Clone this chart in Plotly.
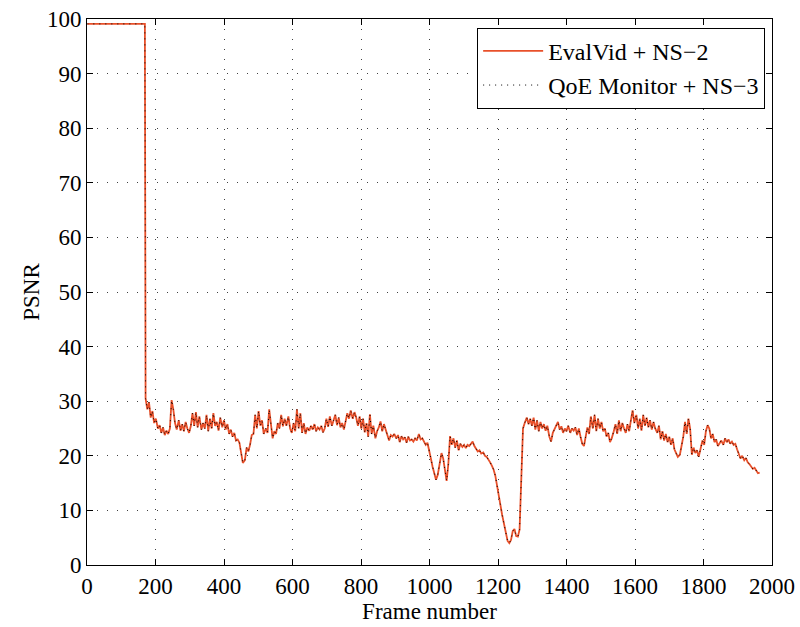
import plotly.graph_objects as go

# Initial constant segment (frames 1..169 at ~99 dB)
start_frames = [1, 169]
start_psnr = [99.1, 99.1]

# PSNR values read at a regular frame spacing starting at frame 171
step = 5.08
first_frame = 171
psnr_rows = [
    [30.5, 28.5, 29.8, 27.0, 28.2, 26.0, 26.8, 25.0, 25.6, 24.2, 25.2, 23.8, 24.6, 24.0, 25.0, 30.2, 28.5, 26.0, 24.8, 26.5],
    [24.6, 25.8, 24.5, 26.2, 25.0, 24.2, 25.4, 27.8, 25.5, 28.0, 25.2, 27.2, 24.8, 26.0, 25.0, 27.5, 24.5, 26.8, 25.0, 27.8],
    [25.5, 26.2, 24.6, 27.0, 25.2, 26.5, 24.8, 25.8, 24.0, 24.8, 23.5, 24.2, 22.8, 23.0, 22.4, 20.5, 18.7, 19.2, 21.5, 20.8],
    [22.0, 23.8, 24.0, 27.5, 25.0, 28.2, 25.5, 26.5, 24.0, 25.0, 24.2, 28.5, 25.5, 23.2, 24.5, 24.0, 26.0, 25.0, 27.5, 25.4],
    [26.8, 25.5, 27.2, 25.0, 24.2, 26.0, 24.5, 28.5, 25.0, 27.8, 24.2, 26.0, 24.0, 25.2, 24.6, 25.5, 24.8, 25.8, 24.5, 25.2],
    [24.8, 25.5, 24.3, 25.0, 26.8, 25.3, 27.2, 25.5, 26.5, 27.5, 25.6, 27.0, 25.2, 26.0, 24.8, 26.5, 27.8, 26.8, 28.3, 26.8],
    [28.0, 27.0, 25.5, 27.2, 25.0, 26.8, 24.3, 26.0, 23.5, 27.6, 24.0, 25.5, 23.2, 24.5, 25.2, 26.3, 24.5, 25.8, 24.8, 24.0],
    [22.8, 23.8, 23.5, 24.0, 23.2, 23.8, 22.5, 23.6, 23.0, 23.4, 22.4, 23.5, 22.8, 23.0, 22.6, 23.2, 22.8, 24.0, 23.0, 23.2],
    [22.6, 22.0, 22.4, 21.2, 19.5, 18.0, 16.8, 15.6, 16.5, 19.0, 20.5, 19.5, 17.0, 15.4, 18.5, 23.6, 22.0, 23.2, 21.5, 22.8],
    [21.0, 22.2, 21.6, 22.0, 21.4, 22.0, 21.8, 22.3, 22.6, 21.8, 21.2, 20.8, 21.0, 20.4, 20.6, 20.0, 19.8, 19.4, 18.8, 18.2],
    [17.5, 16.4, 14.8, 13.0, 11.0, 9.2, 7.5, 5.6, 4.4, 4.0, 4.6, 6.2, 6.6, 5.3, 5.2, 6.5, 16.0, 25.0, 26.0, 27.0],
    [25.8, 26.8, 25.5, 27.0, 24.8, 26.5, 24.5, 26.2, 25.0, 25.8, 24.6, 25.5, 23.5, 22.6, 24.2, 24.8, 25.6, 26.2, 24.8, 25.4],
    [24.2, 25.0, 24.5, 25.5, 24.2, 25.0, 24.6, 25.2, 23.8, 25.0, 23.5, 22.2, 21.8, 23.5, 25.2, 24.0, 27.2, 25.0, 27.5, 24.5],
    [26.8, 25.0, 26.2, 24.5, 25.0, 23.5, 24.2, 22.5, 23.2, 24.5, 25.8, 24.0, 26.5, 24.5, 26.0, 25.0, 24.2, 25.8, 24.5, 26.5],
    [28.3, 26.0, 27.5, 25.0, 26.8, 24.6, 27.5, 25.5, 27.0, 25.2, 26.5, 24.8, 26.2, 25.0, 24.2, 25.5, 23.0, 24.5, 22.8, 24.0],
    [22.5, 23.5, 22.0, 23.2, 21.2, 20.5, 19.8, 20.2, 22.0, 23.5, 26.2, 24.0, 26.8, 25.0, 20.2, 21.5, 20.5, 21.0, 19.8, 21.8],
    [22.8, 22.0, 24.5, 25.6, 25.0, 23.2, 24.0, 22.5, 23.0, 21.8, 22.4, 22.8, 22.0, 23.2, 22.5, 23.0, 22.2, 22.6, 22.0, 22.2],
    [21.2, 20.5, 19.5, 20.0, 19.2, 19.6, 18.8, 18.5, 18.0, 17.6, 17.8, 17.2, 16.8, 16.9],
]

series_names = ["EvalVid + NS\u22122", "QoE Monitor + NS\u22123"]
x_ticks = list(range(0, 2001, 200))
y_ticks = list(range(0, 101, 10))

psnr_vals = [v for row in psnr_rows for v in row]
frames = start_frames + [round(first_frame + step * i) for i in range(len(psnr_vals))]
psnr = start_psnr + psnr_vals

FONT = "Times New Roman, Liberation Serif, DejaVu Serif, serif"
FS = 23

fig = go.Figure()
fig.add_trace(go.Scatter(
    x=frames, y=psnr, mode="lines", name=series_names[0],
    line=dict(color="#e8502a", width=1.8),
))
fig.add_trace(go.Scatter(
    x=frames, y=psnr, mode="lines", name=series_names[1],
    line=dict(color="black", width=1, dash="1px,5px"),
))

axis_common = dict(
    showline=True, linecolor="black", linewidth=1, mirror="ticks",
    ticks="inside", ticklen=6, tickcolor="black", tickwidth=1,
    showgrid=True, gridcolor="rgba(0,0,0,0.75)", gridwidth=1, griddash="1px,9px",
    zeroline=False, ticklabeloverflow="allow", automargin=False,
    tickfont=dict(family=FONT, size=FS, color="black"),
)

fig.update_layout(
    width=800, height=627,
    margin=dict(l=87, r=28, t=19, b=62),
    paper_bgcolor="white", plot_bgcolor="white",
    font=dict(family=FONT, size=FS, color="black"),
    showlegend=True,
    legend=dict(
        x=0.99, y=0.984, xanchor="right", yanchor="top",
        bgcolor="white", bordercolor="black", borderwidth=1,
        font=dict(family=FONT, size=24, color="black"),
        itemwidth=60, tracegroupgap=0,
    ),
    xaxis=dict(range=[0, 2000], tickvals=x_ticks,
               title=dict(text="Frame number", font=dict(family=FONT, size=FS), standoff=0),
               **axis_common),
    yaxis=dict(range=[0, 100], tickvals=y_ticks,
               title=dict(text="PSNR", font=dict(family=FONT, size=FS), standoff=0),
               **axis_common),
)

fig.write_html("out.html")
